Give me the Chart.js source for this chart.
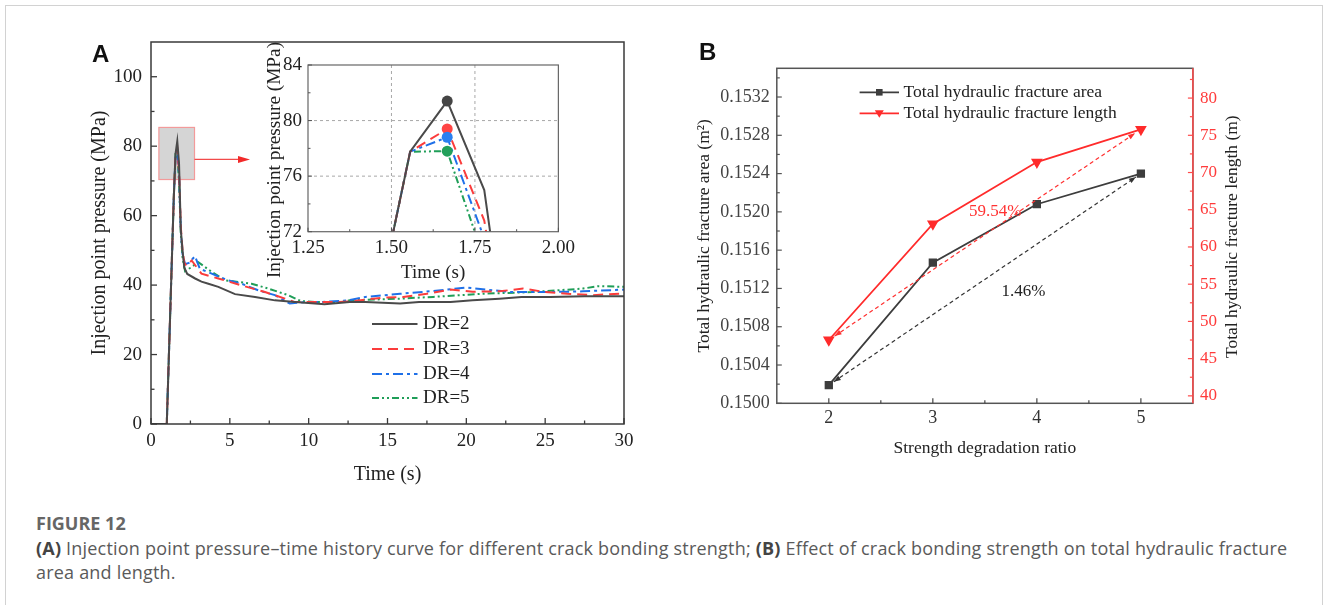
<!DOCTYPE html>
<html><head><meta charset="utf-8">
<script src="https://cdn.jsdelivr.net/npm/chart.js@4.4.0/dist/chart.umd.min.js"></script>
<style>
html,body{margin:0;padding:0;background:#fff;}
#wrap{position:relative;width:1328px;height:605px;overflow:hidden;background:#fff;}
canvas{position:absolute;}
.frame{position:absolute;left:5px;top:5px;width:1316px;height:700px;border:1px solid #d2d2d2;}
.lbl{position:absolute;font-family:"Liberation Sans",Arial,sans-serif;font-weight:bold;font-size:24px;line-height:24px;color:#111;}
.cap{position:absolute;left:36px;font-family:"Open Sans","Noto Sans",sans-serif;color:#5a5a5a;white-space:nowrap;}
</style></head>
<body><div id="wrap">
<div class="frame"></div>
<canvas id="cA" width="600" height="470" style="left:40px;top:20px"></canvas>
<canvas id="cIn" width="330" height="250" style="left:250px;top:40px"></canvas>
<canvas id="cB" width="600" height="470" style="left:680px;top:20px"></canvas>
<div class="lbl" style="left:92px;top:42px">A</div>
<div class="lbl" style="left:699px;top:40px">B</div>
<div class="cap" style="top:511px;font-size:18px;font-weight:700;line-height:24px;color:#666">FIGURE 12</div>
<div class="cap" style="top:536px;font-size:18px;letter-spacing:0.2px;line-height:24px"><b style="color:#444">(A)</b> Injection point pressure–time history curve for different crack bonding strength; <b style="color:#444">(B)</b> Effect of crack bonding strength on total hydraulic fracture<br>area and length.</div>
</div>
<script>
// ---------- Panel A data ----------
const seriesLabels = ['DR=2', 'DR=3', 'DR=4', 'DR=5'];
const t2 = [0,1.0,1.444,1.556,1.667,1.778,1.889,2.0,2.111,2.3,2.8,3.2,3.64,4.27,5.33,6.6,7.86,9.13,10.4,11.0,12.6,13.6,15.8,17.0,19.0,20.4,22.1,23.5,25.3,27.5,30];
const p2 = [0,0,65,77.76,81.4,75.0,56,50,45,43.2,41.9,41.0,40.4,39.5,37.4,36.6,35.6,35.1,34.7,34.5,35.1,35.1,34.7,35.1,35.1,35.6,36.1,36.6,36.6,36.8,36.8];
const t3 = [0,1.0,1.444,1.556,1.667,1.778,1.889,2.0,2.111,2.25,2.58,3.2,4.27,5.75,7.23,8.5,9.13,10.4,11.7,12.9,14.7,16.0,17.5,19.0,20.4,22.1,23.6,25.0,26.4,28.0,30];
const p3 = [0,0,65,77.76,79.4,72.8,57,50,46.5,45.5,47.1,43.3,41.9,39.9,38.0,36.1,35.1,35.1,35.1,35.4,36.4,36.6,37.5,38.7,38.1,38.2,39.0,38.0,37.5,37.1,37.6];
const t4 = [0,1.0,1.444,1.556,1.667,1.778,1.889,2.0,2.16,2.4,2.79,3.1,3.85,4.8,5.75,6.8,7.86,8.8,9.8,10.8,12.5,13.6,15.8,17.9,20.0,21.7,22.8,25.3,27.4,30];
const p4 = [0,0,65,77.76,78.8,71.5,56,49,46,46.4,48.3,44.7,43.3,41.5,40.4,38.5,37.1,34.7,35.1,35.1,35.6,36.6,37.5,38.3,39.3,38.5,38.0,38.0,38.2,38.7];
const t5 = [0,1.0,1.444,1.556,1.667,1.778,1.889,2.0,2.16,2.5,3.0,3.85,4.69,6.38,7.44,8.7,9.5,10.4,11.9,12.6,15.8,17.9,21.05,24.2,27.4,28.4,30];
const p5 = [0,0,65,77.76,77.8,70.0,55,48,44,45,46.6,43.8,41.4,40.4,39.0,37.1,35.4,35.1,35.1,35.6,36.1,36.6,37.5,38.0,39.0,39.7,39.5];
const peakT = 1.667;
const peakP = [81.4, 79.4, 78.8, 77.8];
const xTicksA = [0,5,10,15,20,25,30];
const yTicksA = [0,20,40,60,80,100];
const xMinorA = [2.5,7.5,12.5,17.5,22.5,27.5];
const yMinorA = [10,30,50,70,90];
const zoomBoxT = [0.5, 2.76];
const zoomBoxP = [70.4, 85.4];
const arrowT = [2.76, 6.28];
const arrowP = 76.2;
const xTicksIn = [1.25,1.5,1.75,2.0];
const yTicksIn = [72,76,80,84];
const xMinorIn = [1.375,1.625,1.875];
const yMinorIn = [74,78,82];

// ---------- Panel B data ----------
const ratioB = [2,3,4,5];
const areaB = [0.15019,0.15147,0.15208,0.15240];
const lengthB = [47.5,63.1,71.4,75.8];
const xTicksB = [2,3,4,5];
const yTicksB = [0.1500,0.1504,0.1508,0.1512,0.1516,0.1520,0.1524,0.1528,0.1532];
const y1TicksB = [40,45,50,55,60,65,70,75,80];
const xMinorB = [2.5,3.5,4.5];
const yMinorB = [0.1502,0.1506,0.1510,0.1514,0.1518,0.1522,0.1526,0.1530,0.1534];
const y1MinorB = [42.5,47.5,52.5,57.5,62.5,67.5,72.5,77.5,82.5];
const bLegend = ['Total hydraulic fracture area','Total hydraulic fracture length'];
const pctText = ['59.54%','1.46%'];
const pctX = [3.6, 3.87];
const pctY = [64.8, 0.151166];

// ---------- styles ----------
const serif = '"Liberation Serif","Times New Roman",serif';
Chart.defaults.font.family = serif;
Chart.defaults.color = '#222';
const sColors = ['#4a4a4a','#fb3c3c','#1f70e8','#1f9e58'];
const sDash = [[],[10,6],[10,4,3,4],[7,3,2,3,2,3]];
const mColors = ['#444444','#ff4444','#2a80f0','#22a05a'];
const tSeries = [t2,t3,t4,t5];
const pSeries = [p2,p3,p4,p5];
const pts = (t,p) => t.map((x,i)=>({x:x,y:p[i]}));
const setTicks = arr => s => { s.ticks = arr.map(v=>({value:v})); };

function drawTicks(chart,id,minor,len,mlen,color,lw){
  const s=chart.scales[id], ca=chart.chartArea, ctx=chart.ctx;
  ctx.save(); ctx.strokeStyle=color; ctx.lineWidth=lw||1.2; ctx.setLineDash([]);
  const one=(v,l)=>{const p=s.getPixelForValue(v); ctx.beginPath();
    if(s.position==='bottom'){ctx.moveTo(p,ca.bottom);ctx.lineTo(p,ca.bottom-l);}
    else if(s.position==='left'){ctx.moveTo(ca.left,p);ctx.lineTo(ca.left+l,p);}
    else {ctx.moveTo(ca.right,p);ctx.lineTo(ca.right-l,p);}
    ctx.stroke();};
  s.ticks.forEach(t=>one(t.value,len)); minor.forEach(v=>one(v,mlen));
  ctx.restore();
}
function drawFrame(chart,color,lw){
  const ca=chart.chartArea, ctx=chart.ctx;
  ctx.save(); ctx.strokeStyle=color; ctx.lineWidth=lw; ctx.setLineDash([]);
  ctx.strokeRect(ca.left,ca.top,ca.right-ca.left,ca.bottom-ca.top); ctx.restore();
}
function head(ctx,x,y,ang,len,w,color){
  ctx.save(); ctx.translate(x,y); ctx.rotate(ang); ctx.beginPath();
  ctx.moveTo(0,0); ctx.lineTo(-len,-w/2); ctx.lineTo(-len,w/2); ctx.closePath();
  ctx.fillStyle=color; ctx.fill(); ctx.restore();
}
function dashedArrow(ctx,x0,y0,x1,y1,color,shrink){
  const a=Math.atan2(y1-y0,x1-x0), c=Math.cos(a), s=Math.sin(a);
  const sx=x0+c*shrink, sy=y0+s*shrink, ex=x1-c*shrink, ey=y1-s*shrink;
  ctx.save(); ctx.setLineDash([4,3]); ctx.strokeStyle=color; ctx.lineWidth=1.2;
  ctx.beginPath(); ctx.moveTo(sx,sy); ctx.lineTo(ex,ey); ctx.stroke(); ctx.restore();
  head(ctx,ex,ey,a,7,5,color); head(ctx,sx,sy,a+Math.PI,7,5,color);
}
function lineSample(ctx,x0,x1,y,color,dash,lw){
  ctx.save(); ctx.strokeStyle=color; ctx.lineWidth=lw; ctx.setLineDash(dash);
  ctx.beginPath(); ctx.moveTo(x0,y); ctx.lineTo(x1,y); ctx.stroke(); ctx.restore();
}
function vText(ctx,text,x,y,font,color){
  ctx.save(); ctx.translate(x,y); ctx.rotate(-Math.PI/2);
  ctx.font=font; ctx.fillStyle=color; ctx.textAlign='center'; ctx.textBaseline='middle';
  ctx.fillText(text,0,0); ctx.restore();
}

// ---------- Panel A main ----------
new Chart(document.getElementById('cA'), {
  type:'line',
  data:{datasets: seriesLabels.map((lab,i)=>({label:lab, data:pts(tSeries[i],pSeries[i]), borderColor:sColors[i], borderDash:sDash[i], borderWidth:2, pointRadius:0, tension:0, fill:false}))},
  options:{
    responsive:false, animation:false, devicePixelRatio:1, events:[],
    layout:{padding:{top:22,right:16,left:0,bottom:0}},
    plugins:{legend:{display:false}, tooltip:{enabled:false}},
    scales:{
      x:{type:'linear', min:0, max:30, afterBuildTicks:setTicks(xTicksA), afterFit:s=>{s.height=66;},
        grid:{display:false,drawTicks:false}, border:{display:false},
        ticks:{padding:6, autoSkip:false, maxRotation:0, font:{size:19}, color:'#222', callback:v=>String(v)},
        title:{display:true, text:'Time (s)', font:{size:20}, color:'#222', padding:{top:0,bottom:3}}},
      y:{type:'linear', min:0, max:110, afterBuildTicks:setTicks(yTicksA), afterFit:s=>{s.width=111;},
        grid:{display:false,drawTicks:false}, border:{display:false},
        ticks:{padding:9, autoSkip:false, font:{size:19}, color:'#222', callback:v=>String(v)},
        title:{display:true, text:'Injection point pressure (MPa)', font:{size:20}, color:'#222', padding:{top:48,bottom:0}}}
    }
  },
  plugins:[{
    id:'decorA',
    beforeDatasetsDraw(chart){
      const ctx=chart.ctx, x=chart.scales.x, y=chart.scales.y;
      const l=x.getPixelForValue(zoomBoxT[0]), r=x.getPixelForValue(zoomBoxT[1]);
      const t=y.getPixelForValue(zoomBoxP[1]), b=y.getPixelForValue(zoomBoxP[0]);
      ctx.save(); ctx.fillStyle='#d5d5d5'; ctx.fillRect(l,t,r-l,b-t);
      ctx.strokeStyle='#f39a9a'; ctx.lineWidth=1.2; ctx.strokeRect(l,t,r-l,b-t); ctx.restore();
    },
    afterDatasetsDraw(chart){
      const ctx=chart.ctx, x=chart.scales.x, y=chart.scales.y;
      drawFrame(chart,'#3a3a3a',1.5);
      drawTicks(chart,'x',xMinorA,6,3.5,'#3a3a3a',1.3);
      drawTicks(chart,'y',yMinorA,6,3.5,'#3a3a3a',1.3);
      const ax0=x.getPixelForValue(arrowT[0]), ax1=x.getPixelForValue(arrowT[1]), ay=y.getPixelForValue(arrowP);
      ctx.save(); ctx.strokeStyle='#f24a4a'; ctx.lineWidth=1.2; ctx.beginPath();
      ctx.moveTo(ax0,ay); ctx.lineTo(ax1-10,ay); ctx.stroke(); ctx.restore();
      head(ctx,ax1,ay,0,12,7,'#f22a2a');
      ctx.save(); ctx.font='19px '+serif; ctx.fillStyle='#222'; ctx.textBaseline='middle'; ctx.textAlign='left';
      const rows=[304,329,354,378];
      seriesLabels.forEach((lab,i)=>{
        lineSample(ctx,332,377.5,rows[i],sColors[i],sDash[i],2);
        ctx.fillText(lab,383,rows[i]);
      });
      ctx.restore();
    }
  }]
});

// ---------- Panel A inset ----------
new Chart(document.getElementById('cIn'), {
  type:'line',
  data:{datasets: [{label:'peaks', data:peakP.map(p=>({x:peakT,y:p})), showLine:false, pointRadius:5.5, pointBackgroundColor:mColors, pointBorderColor:mColors, pointBorderWidth:0}]
    .concat(seriesLabels.map((lab,i)=>({label:lab, data:pts(tSeries[i],pSeries[i]), borderColor:sColors[i], borderDash:sDash[i], borderWidth:2, pointRadius:0, tension:0, fill:false})))},
  options:{
    responsive:false, animation:false, devicePixelRatio:1, events:[],
    layout:{padding:{top:25,right:21.4,left:0,bottom:0}},
    plugins:{legend:{display:false}, tooltip:{enabled:false}},
    scales:{
      x:{type:'linear', min:1.25, max:2.0, afterBuildTicks:setTicks(xTicksIn), afterFit:s=>{s.height=58.3;},
        grid:{display:false,drawTicks:false}, border:{display:false},
        ticks:{padding:5, autoSkip:false, maxRotation:0, font:{size:19}, color:'#222', callback:v=>v.toFixed(2)},
        title:{display:true, text:'Time (s)', font:{size:19}, color:'#222', padding:{top:0,bottom:5.6}}},
      y:{type:'linear', min:72, max:84, afterBuildTicks:setTicks(yTicksIn), afterFit:s=>{s.width=58;},
        grid:{display:false,drawTicks:false}, border:{display:false},
        ticks:{padding:6, autoSkip:false, font:{size:19}, color:'#222', callback:v=>String(v)},
        title:{display:false}}
    }
  },
  plugins:[{
    id:'decorIn',
    beforeDatasetsDraw(chart){
      const ctx=chart.ctx, ca=chart.chartArea, x=chart.scales.x, y=chart.scales.y;
      ctx.save(); ctx.strokeStyle='#a8a8a8'; ctx.lineWidth=1; ctx.setLineDash([3,3]);
      [1.5,1.75].forEach(v=>{const p=x.getPixelForValue(v); ctx.beginPath(); ctx.moveTo(p,ca.top); ctx.lineTo(p,ca.bottom); ctx.stroke();});
      [76,80].forEach(v=>{const p=y.getPixelForValue(v); ctx.beginPath(); ctx.moveTo(ca.left,p); ctx.lineTo(ca.right,p); ctx.stroke();});
      ctx.restore();
    },
    afterDatasetsDraw(chart){
      drawFrame(chart,'#666',1.2);
      drawTicks(chart,'x',xMinorIn,4,2.5,'#555',1);
      drawTicks(chart,'y',yMinorIn,4,2.5,'#555',1);
    },
    afterDraw(chart){
      vText(chart.ctx,'Injection point pressure (MPa)',24.6,120,'19.3px '+serif,'#222');
    }
  }]
});

// ---------- Panel B ----------
const grayB='#3d3d3d', redB='#ff2b2b';
new Chart(document.getElementById('cB'), {
  type:'line',
  data:{datasets:[
    {label:bLegend[0], data:pts(ratioB,areaB), yAxisID:'y', borderColor:grayB, backgroundColor:grayB, borderWidth:1.8, pointStyle:'rect', pointRadius:4.6, pointBackgroundColor:grayB, pointBorderColor:grayB, tension:0},
    {label:bLegend[1], data:pts(ratioB,lengthB), yAxisID:'y1', borderColor:redB, backgroundColor:redB, borderWidth:1.8, pointStyle:'triangle', pointRotation:180, pointRadius:5, pointBackgroundColor:redB, pointBorderColor:redB, tension:0}
  ]},
  options:{
    responsive:false, animation:false, devicePixelRatio:1, events:[],
    layout:{padding:{top:48.3,right:0,left:0,bottom:0}},
    plugins:{legend:{display:false}, tooltip:{enabled:false}},
    scales:{
      x:{type:'linear', min:1.5, max:5.5, afterBuildTicks:setTicks(xTicksB), afterFit:s=>{s.height=86.7;},
        grid:{display:false,drawTicks:false}, border:{display:false},
        ticks:{padding:4, autoSkip:false, maxRotation:0, font:{size:18}, color:'#333', callback:v=>String(v)},
        title:{display:true, text:'Strength degradation ratio', font:{size:17.5}, color:'#222', padding:{top:0,bottom:31.2}}},
      y:{type:'linear', position:'left', min:0.1500, max:0.1535, afterBuildTicks:setTicks(yTicksB), afterFit:s=>{s.width=96.8;},
        grid:{display:false,drawTicks:false}, border:{display:false},
        ticks:{padding:7, autoSkip:false, font:{size:18}, color:'#444', callback:v=>v.toFixed(4)},
        title:{display:true, text:'Total hydraulic fracture area (m²)', font:{size:17.5}, color:'#222', padding:{top:13.8,bottom:0}}},
      y1:{type:'linear', position:'right', min:39, max:84, afterBuildTicks:setTicks(y1TicksB), afterFit:s=>{s.width=87.1;},
        grid:{display:false,drawTicks:false}, border:{display:false},
        ticks:{padding:7, autoSkip:false, font:{size:17}, color:'#ff3b3b', callback:v=>String(v)},
        title:{display:false}}
    }
  },
  plugins:[{
    id:'decorB',
    afterDatasetsDraw(chart){
      const ctx=chart.ctx, ca=chart.chartArea, x=chart.scales.x, y=chart.scales.y, y1=chart.scales.y1;
      drawFrame(chart,'#555',1.5);
      ctx.save(); ctx.strokeStyle='#ff4a4a'; ctx.lineWidth=1.5; ctx.beginPath(); ctx.moveTo(ca.right,ca.top); ctx.lineTo(ca.right,ca.bottom); ctx.stroke(); ctx.restore();
      drawTicks(chart,'x',xMinorB,5,3,'#444',1.2);
      drawTicks(chart,'y',yMinorB,5,3,'#555',1.2);
      drawTicks(chart,'y1',y1MinorB,5,3,'#ff4a4a',1.2);
      const n=ratioB.length-1;
      dashedArrow(ctx,x.getPixelForValue(ratioB[0]),y.getPixelForValue(areaB[0]),x.getPixelForValue(ratioB[n]),y.getPixelForValue(areaB[n]),'#333',6);
      dashedArrow(ctx,x.getPixelForValue(ratioB[0]),y1.getPixelForValue(lengthB[0]),x.getPixelForValue(ratioB[n]),y1.getPixelForValue(lengthB[n]),'#ff3030',7);
      ctx.save(); ctx.font='17px '+serif; ctx.textAlign='center'; ctx.textBaseline='middle';
      ctx.fillStyle='#ff3333'; ctx.fillText(pctText[0],x.getPixelForValue(pctX[0]),y1.getPixelForValue(pctY[0]));
      ctx.fillStyle='#222'; ctx.fillText(pctText[1],x.getPixelForValue(pctX[1]),y.getPixelForValue(pctY[1]));
      ctx.restore();
      const rows=[72.3,93.3];
      lineSample(ctx,179.6,219,rows[0],grayB,[],1.8);
      ctx.save(); ctx.fillStyle=grayB; ctx.fillRect(199.3-3.3,rows[0]-3.3,6.6,6.6); ctx.restore();
      lineSample(ctx,179.6,219,rows[1],redB,[],1.8);
      ctx.save(); ctx.fillStyle=redB; ctx.beginPath(); ctx.moveTo(199.3-4.5,rows[1]-3); ctx.lineTo(199.3+4.5,rows[1]-3); ctx.lineTo(199.3,rows[1]+4.5); ctx.closePath(); ctx.fill(); ctx.restore();
      ctx.save(); ctx.font='17.5px '+serif; ctx.fillStyle='#222'; ctx.textAlign='left'; ctx.textBaseline='middle';
      ctx.fillText(bLegend[0],223.6,rows[0]); ctx.fillText(bLegend[1],223.6,rows[1]); ctx.restore();
    },
    afterDraw(chart){
      vText(chart.ctx,'Total hydraulic fracture length (m)',552.9,216.7,'17.5px '+serif,'#222');
    }
  }]
});
</script>
</body></html>
